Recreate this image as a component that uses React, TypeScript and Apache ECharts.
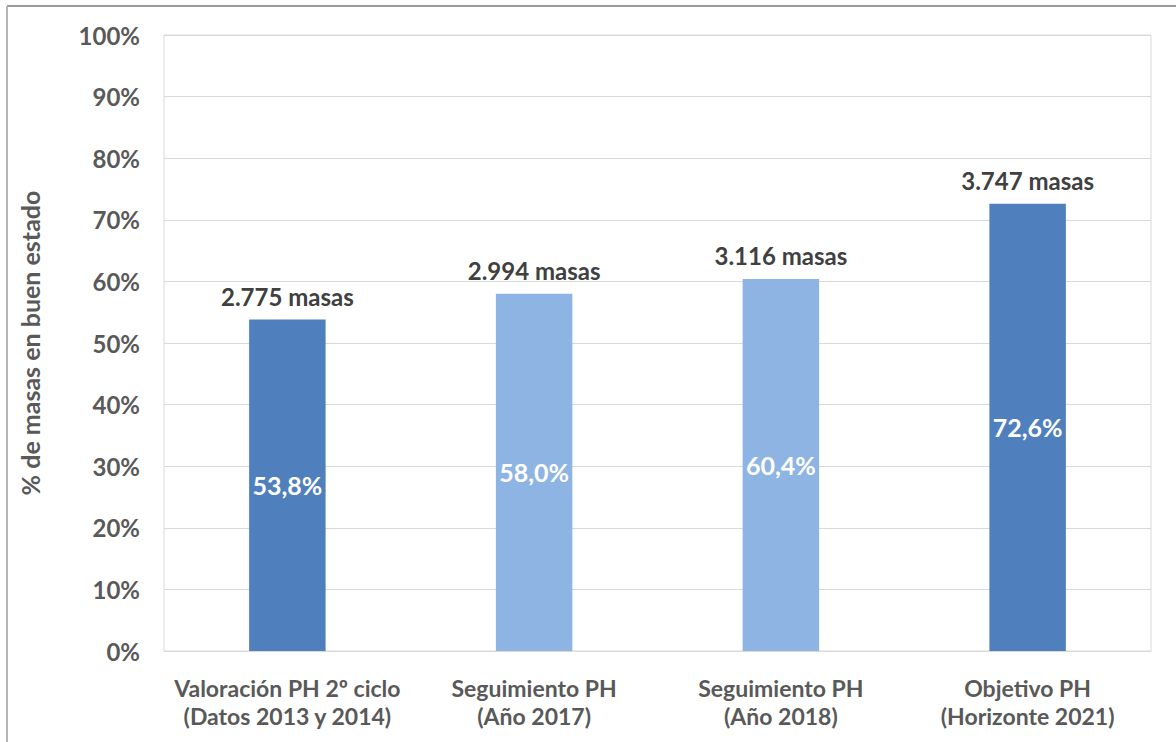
import React, { useEffect, useRef } from "react";
import * as echarts from "echarts";

const categories = [
  "Valoración PH 2º ciclo\n(Datos 2013 y 2014)",
  "Seguimiento PH\n(Año 2017)",
  "Seguimiento PH\n(Año 2018)",
  "Objetivo PH\n(Horizonte 2021)",
];
const percentValues = [53.8, 58.0, 60.4, 72.6];
const massCounts = ["2.775", "2.994", "3.116", "3.747"];
const barColors = ["#4f80bd", "#8eb4e3", "#8eb4e3", "#4f80bd"];
const yTicks = [0, 10, 20, 30, 40, 50, 60, 70, 80, 90, 100];

const FONT = "Lato, 'Open Sans', sans-serif";

export default function App() {
  const ref = useRef<HTMLDivElement>(null);
  useEffect(() => {
    const chart = echarts.init(ref.current!, null, { renderer: "svg" });
    chart.setOption({
      animation: false,
      backgroundColor: "#ffffff",
      grid: {
        left: 164,
        right: 25,
        top: 35,
        bottom: 91,
        show: true,
        borderColor: "#d9d9d9",
        borderWidth: 1,
      },
      xAxis: {
        type: "category",
        data: categories,
        axisLine: { lineStyle: { color: "#d9d9d9" } },
        axisTick: { show: false },
        axisLabel: {
          interval: 0,
          color: "#595959",
          fontFamily: FONT,
          fontWeight: "bold",
          fontSize: 23,
          lineHeight: 28,
          margin: 23,
        },
      },
      yAxis: {
        type: "value",
        min: 0,
        max: 100,
        interval: 10,
        name: "% de masas en buen estado",
        nameLocation: "middle",
        nameGap: 122,
        nameRotate: 90,
        nameTextStyle: {
          color: "#595959",
          fontFamily: FONT,
          fontWeight: "bold",
          fontSize: 25,
        },
        axisLine: { show: false },
        axisTick: { show: false },
        splitLine: { lineStyle: { color: "#d9d9d9" } },
        axisLabel: {
          color: "#595959",
          fontFamily: FONT,
          fontWeight: "bold",
          fontSize: 24,
          margin: 24,
          formatter: (v: number) => (yTicks.includes(v) ? v + "%" : ""),
        },
      },
      series: [
        {
          type: "bar",
          barWidth: "31%",
          data: percentValues.map((v, i) => ({
            value: v,
            itemStyle: { color: barColors[i] },
          })),
          label: {
            show: true,
            position: "inside",
            color: "#ffffff",
            fontFamily: FONT,
            fontWeight: "bold",
            fontSize: 25,
            formatter: (p: any) => p.value.toFixed(1).replace(".", ",") + "%",
          },
        },
        {
          type: "bar",
          barWidth: "31%",
          barGap: "-100%",
          silent: true,
          data: percentValues.map((v) => ({
            value: v,
            itemStyle: { color: "transparent" },
          })),
          label: {
            show: true,
            position: "top",
            distance: 11,
            color: "#404040",
            fontFamily: FONT,
            fontWeight: "bold",
            fontSize: 24,
            formatter: (p: any) => massCounts[p.dataIndex] + " masas",
          },
        },
      ],
      graphic: [
        {
          type: "line",
          shape: { x1: 7, y1: 6, x2: 1176, y2: 6 },
          style: { stroke: "#9a9a9a", lineWidth: 2 },
        },
        {
          type: "line",
          shape: { x1: 7, y1: 6, x2: 7, y2: 742 },
          style: { stroke: "#b5b5b5", lineWidth: 2 },
        },
      ],
    });
    return () => chart.dispose();
  }, []);
  return (
    <div
      ref={ref}
      style={{ position: "absolute", left: 0, top: 0, width: 1176, height: 742 }}
    />
  );
}
